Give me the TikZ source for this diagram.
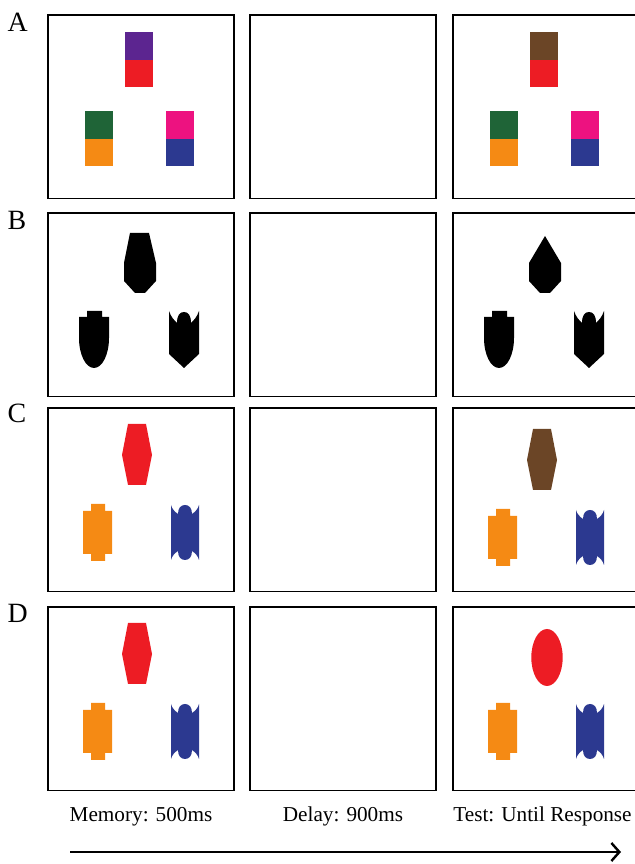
\documentclass[tikz,border=0pt]{standalone}
\usepackage{fontspec}
\setmainfont{Liberation Serif}
\usepackage{tikz}
\usetikzlibrary{arrows.meta}

\definecolor{stimPurple}{HTML}{5C2590}
\definecolor{stimRed}{HTML}{ED1C24}
\definecolor{stimGreen}{HTML}{1F6437}
\definecolor{stimOrange}{HTML}{F58A14}
\definecolor{stimPink}{HTML}{ED1280}
\definecolor{stimBlue}{HTML}{2C3990}
\definecolor{stimBrown}{HTML}{6B4526}

\tikzset{
  panel/.style={draw, line width=1.4bp, anchor=north west, inner sep=0pt, outer sep=0pt,
    minimum width=186bp, minimum height=183.5bp},
  rowlabel/.style={anchor=base west, inner sep=0pt, font=\fontsize{28}{30}\selectfont},
  phaselabel/.style={anchor=base, inner sep=0pt, font=\fontsize{21.3}{24}\selectfont},
  timeline/.style={->, line width=2.4bp},
  inpanel/.style={shift={(#1.north west)}, yscale=-1, transform shape},
  % stimuli, in panel coordinates (y downwards)
  pics/sqpair/.style 2 args={code={
    \fill[#1] (0,0) rectangle (28,28);
    \fill[#2] (0,28) rectangle (28,55);
  }},
  pics/vase/.style={code={
    \fill (82,20) -- (101,20) -- (108,50) -- (108,68) -- (97,80) -- (87,80) -- (76,68) -- (76,50) -- cycle;
  }},
  pics/kite/.style={code={
    \fill (92,23) -- (108,50) -- (108,68) -- (97,80) -- (87,80) -- (76,68) -- (76,50) -- cycle;
  }},
  pics/bullet/.style={code={
    \fill (39,98) -- (54,98) -- (54,104) -- (61,104) -- (61,125)
      arc[start angle=0, end angle=180, x radius=15, y radius=30] -- (31,104) -- (39,104) -- cycle;
  }},
  pics/tulip/.style={code={
    \fill (121,98) -- (121,141) -- (136,155) -- (151,141) -- (151,98)
      .. controls (149,104) and (146,107) .. (143,110)
      .. controls (143,102) and (140,99) .. (136,99)
      .. controls (132,99) and (129,102) .. (129,110)
      .. controls (126,107) and (123,104) .. (121,98) -- cycle;
  }},
  pics/hexa/.style={code={
    \fill[#1] (80,16) -- (98,16) -- (104,47) -- (98,77) -- (80,77) -- (74,47) -- cycle;
  }},
  pics/plug/.style={code={
    \fill[#1] (43,96) -- (57,96) -- (57,103) -- (64,103) -- (64,146) -- (57,146) -- (57,153)
      -- (43,153) -- (43,146) -- (35,146) -- (35,103) -- (43,103) -- cycle;
  }},
  pics/scallop/.style={code={
    \fill[#1] (123,97) .. controls (124,101) and (127,104) .. (130,106)
      .. controls (130,100) and (133,97) .. (137,97)
      .. controls (141,97) and (144,100) .. (144,106)
      .. controls (147,104) and (150,101) .. (151,97) -- (151,152)
      .. controls (150,148) and (147,145) .. (144,143)
      .. controls (144,149) and (141,152) .. (137,152)
      .. controls (133,152) and (130,149) .. (130,143)
      .. controls (127,145) and (124,148) .. (123,152) -- cycle;
  }},
  pics/oval/.style={code={
    \fill[#1] (94,50.5) ellipse[x radius=15.7, y radius=28.5];
  }},
}

\begin{document}
\begin{tikzpicture}[x=1bp, y=1bp, >={Straight Barb[length=8bp,width=18bp]}]
\clip (0bp,0bp) rectangle (635bp,864bp);
%% panels
\node (mA) at (48bp,849bp) [panel] {};
\node (dA) at (250bp,849bp) [panel] {};
\node (tA) at (453bp,849bp) [panel] {};
\node (mB) at (48bp,651bp) [panel] {};
\node (dB) at (250bp,651bp) [panel] {};
\node (tB) at (453bp,651bp) [panel] {};
\node (mC) at (48bp,456bp) [panel] {};
\node (dC) at (250bp,456bp) [panel] {};
\node (tC) at (453bp,456bp) [panel] {};
\node (mD) at (48bp,257bp) [panel] {};
\node (dD) at (250bp,257bp) [panel] {};
\node (tD) at (453bp,257bp) [panel] {};
%% row labels
\node (labA) at (7.5bp,832bp) [rowlabel] {A};
\node (labB) at (7.5bp,634bp) [rowlabel] {B};
\node (labC) at (7.5bp,441bp) [rowlabel] {C};
\node (labD) at (7.5bp,241bp) [rowlabel] {D};
%% row A
\begin{scope}[inpanel=mA]
  \pic at (77,17) {sqpair={stimPurple}{stimRed}};
  \pic at (37,96) {sqpair={stimGreen}{stimOrange}};
  \pic at (118,96) {sqpair={stimPink}{stimBlue}};
\end{scope}
\begin{scope}[inpanel=tA]
  \pic at (77,17) {sqpair={stimBrown}{stimRed}};
  \pic at (37,96) {sqpair={stimGreen}{stimOrange}};
  \pic at (118,96) {sqpair={stimPink}{stimBlue}};
\end{scope}
%% row B
\begin{scope}[inpanel=mB]
  \pic at (0,0) {vase}; \pic at (0,0) {bullet}; \pic at (0,0) {tulip};
\end{scope}
\begin{scope}[inpanel=tB]
  \pic at (0,0) {kite}; \pic at (0,0) {bullet}; \pic at (0,0) {tulip};
\end{scope}
%% row C
\begin{scope}[inpanel=mC]
  \pic at (0,0) {hexa=stimRed}; \pic at (0,0) {plug=stimOrange}; \pic at (0,0) {scallop=stimBlue};
\end{scope}
\begin{scope}[inpanel=tC]
  \pic at (0,5) {hexa=stimBrown}; \pic at (0,5) {plug=stimOrange}; \pic at (0,5) {scallop=stimBlue};
\end{scope}
%% row D
\begin{scope}[inpanel=mD]
  \pic at (0,0) {hexa=stimRed}; \pic at (0,0) {plug=stimOrange}; \pic at (0,0) {scallop=stimBlue};
\end{scope}
\begin{scope}[inpanel=tD]
  \pic at (0,0) {oval=stimRed}; \pic at (0,0) {plug=stimOrange}; \pic at (0,0) {scallop=stimBlue};
\end{scope}
%% time line
\node (phMem) at (141bp,42bp) [phaselabel] {Memory: 500ms};
\node (phDel) at (343bp,42bp) [phaselabel] {Delay: 900ms};
\node (phTest) at (542.5bp,42bp) [phaselabel] {Test: Until Response};
\coordinate (tstart) at (70bp,12bp);
\coordinate (tend) at (621bp,12bp);
\draw [timeline] (tstart) -- (tend);
%
\end{tikzpicture}
\end{document}
